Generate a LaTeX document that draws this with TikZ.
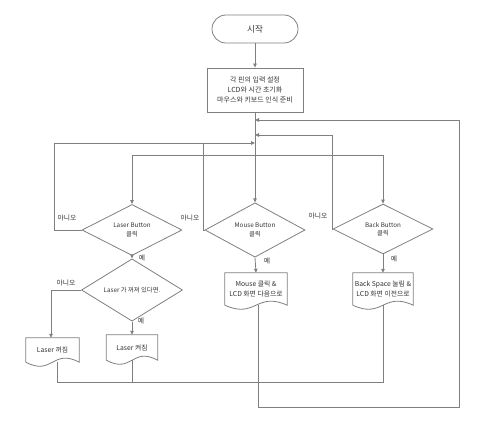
\documentclass[tikz,border=0pt]{standalone}
\usepackage{fontspec}
\setmainfont{Noto Sans CJK KR}
\usetikzlibrary{calc,arrows.meta,shapes.geometric}
\definecolor{linegray}{HTML}{7F7F7F}
\definecolor{txtgray}{HTML}{333333}
\newcommand\docoutline[1]{%
  \draw[line] (#1.south west) -- (#1.north west) -- (#1.north east) -- (#1.south east)
    .. controls ($(#1.south)+(0,-14)$) and ($(#1.south)+(0,14)$) .. (#1.south west);}
\begin{document}
\begin{tikzpicture}[x=1pt,y=-1pt,
  line/.style={draw=linegray, line width=0.8pt},
  arr/.style={line, -{Triangle[length=4pt,width=3.5pt]}},
  base/.style={text=txtgray, font=\fontsize{7}{10}\selectfont, align=center, inner sep=0pt},
  startbox/.style={base, line, rounded corners=14pt, minimum width=86pt, minimum height=28pt, font=\fontsize{8.5}{10}\selectfont},
  procbox/.style={base, line, minimum width=96pt, minimum height=44pt},
  decision/.style={base, line, diamond, minimum width=100pt, minimum height=44pt, font=\fontsize{6.3}{8.5}\selectfont},
  docbox/.style={base, minimum width=#1, font=\fontsize{6.8}{10}\selectfont},
  lbl/.style={text=txtgray, font=\fontsize{6.8}{8}\selectfont, inner sep=0pt}]
\useasboundingbox (0,0) rectangle (497,446);

% nodes
\node[startbox] (start) at (255,29) {시작};
\node[procbox] (init) at (255,90) {각 핀의 입력 설정\\LCD와 시간 초기화\\마우스와 키보드 인식 준비};
\node[decision] (ldia) at (132,230) {Laser Button\\클릭};
\node[decision] (mdia) at (255,230) {Mouse Button\\클릭};
\node[decision] (bdia) at (383,229) {Back Button\\클릭};
\node[decision, minimum width=101pt, minimum height=43pt] (lchk) at (132,290) {Laser 가 꺼져 있다면.};
\node[docbox=53pt, minimum height=24pt] (offdoc) at (52.5,350) {Laser 꺼짐};
\node[docbox=51pt, minimum height=25pt] (ondoc) at (132,347.5) {Laser 켜짐};
\node[docbox=62pt, minimum height=32pt] (mdoc) at (256,289) {Mouse 클릭 \&\\LCD 화면 다음으로};
\node[docbox=60pt, minimum height=32pt] (bdoc) at (383,289) {Back Space 눌림 \&\\LCD 화면 이전으로};
\docoutline{offdoc}
\docoutline{ondoc}
\docoutline{mdoc}
\docoutline{bdoc}

% junction coordinates
\coordinate (jA) at (255,120);
\coordinate (jB) at (255,135);
\coordinate (jC) at (255,143);
\coordinate (bus) at (0,155);
\coordinate (lloop) at (54,143);
\coordinate (mloop) at (203,143);
\coordinate (bloop) at (332,135);
\coordinate (rloop) at (459,407);
\coordinate (bot) at (0,382);
\coordinate (offx) at (51,0);

% connectors
\draw[arr] (start) -- (init);
\draw[arr] (init.south) -- (mdia.north);
\draw[line] (ldia.north |- bus) -- (bdia.north |- bus);
\draw[arr] (ldia.north |- bus) -- (ldia.north);
\draw[arr] (bdia.north |- bus) -- (bdia.north);
\draw[arr] (ldia.west) -| (lloop) -- (jC);
\draw[line] (mdia.west) -| (mloop);
\draw[arr] (bdia.west) -| (bloop) -- (jB);
\draw[arr] (ldia.south) -- (lchk.north);
\draw[arr] (lchk.west) -| (offx |- offdoc.north);
\draw[arr] (lchk.south) -- (ondoc.north);
\draw[arr] (mdia.south) -- (mdoc.north);
\draw[arr] (bdia.south) -- (bdoc.north);
\draw[arr] ([xshift=2pt]mdoc.south) |- (rloop) |- (jA);
\draw[line] ([xshift=5pt]offdoc.south) |- (bdoc.south |- bot) -- (bdoc.south);
\draw[line] (ondoc.south) -- (ondoc.south |- bot);

% labels
\node[lbl] at (67,218) {아니오};
\node[lbl] at (190,218) {아니오};
\node[lbl] at (318,216) {아니오};
\node[lbl] at (66,283) {아니오};
\node[lbl] at (142,258) {예};
\node[lbl] at (141,321) {예};
\node[lbl] at (267,261) {예};
\node[lbl] at (394,259) {예};
\end{tikzpicture}
\end{document}
